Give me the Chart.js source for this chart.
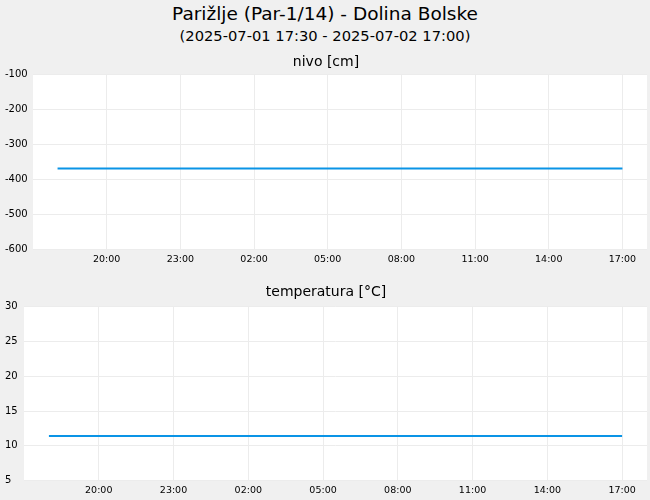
<!DOCTYPE html>
<html>
<head>
<meta charset="utf-8">
<script src="https://cdn.jsdelivr.net/npm/chart.js@4"></script>
<style>
  html, body { margin: 0; padding: 0; background: #f0f0f0; width: 650px; height: 500px; overflow: hidden; font-family: "DejaVu Sans", sans-serif; }
  #t1 { position: absolute; left: 0; top: 3px; width: 650px; text-align: center; font-size: 18.5px; line-height: 22px; color: #000; }
  #t2 { position: absolute; left: 0; top: 27px; width: 650px; text-align: center; font-size: 14.7px; line-height: 18px; color: #000; }
  #c1 { position: absolute; left: 0; top: 48px; }
  #c2 { position: absolute; left: 0; top: 282px; }
</style>
</head>
<body>
<div id="t1">Parižlje (Par-1/14) - Dolina Bolske</div>
<div id="t2">(2025-07-01 17:30 - 2025-07-02 17:00)</div>
<canvas id="c1" width="650" height="221"></canvas>
<canvas id="c2" width="650" height="218"></canvas>
<script>
// ---- data ----
const times = [
  "1 18:00","1 19:00","1 20:00","1 21:00","1 22:00","1 23:00",
  "2 00:00","2 01:00","2 02:00","2 03:00","2 04:00","2 05:00",
  "2 06:00","2 07:00","2 08:00","2 09:00","2 10:00","2 11:00",
  "2 12:00","2 13:00","2 14:00","2 15:00","2 16:00","2 17:00"
];
const nivo = [
  -368,-368,-368,-368,-368,-368,-368,-368,-368,-368,-368,-368,
  -368,-368,-368,-368,-368,-368,-368,-368,-368,-368,-368,-368
];
const temperatura = [
  11.4,11.4,11.4,11.4,11.4,11.4,11.4,11.4,11.4,11.4,11.4,11.4,
  11.4,11.4,11.4,11.4,11.4,11.4,11.4,11.4,11.4,11.4,11.4,11.4
];
const xTickLabels = ["20:00","23:00","02:00","05:00","08:00","11:00","14:00","17:00"];
const xTickDays   = [1, 1, 2, 2, 2, 2, 2, 2];
const nivoTicks = [-600,-500,-400,-300,-200,-100];
const tempTicks = [5,10,15,20,25,30];

// minutes since day-1 17:00
function toMin(day, hhmm) {
  const [h, m] = hhmm.split(":").map(Number);
  return (day - 1) * 1440 + h * 60 + m - 17 * 60;
}
function parseT(s) { const [d, t] = s.split(" "); return toMin(Number(d), t); }
const xTickVals = xTickLabels.map((l, i) => toMin(xTickDays[i], l));
const xMin = toMin(1, "17:00"), xMax = toMin(2, "18:00");

const whiteArea = {
  id: 'whiteArea',
  beforeDraw(chart) {
    const { ctx, chartArea: a } = chart;
    ctx.save();
    ctx.fillStyle = '#ffffff';
    ctx.fillRect(a.left, a.top, a.right - a.left, a.bottom - a.top);
    ctx.restore();
  }
};

Chart.defaults.font.family = '"DejaVu Sans", sans-serif';
Chart.defaults.color = '#000';

function makeChart(id, title, values, yTicks, yWidth, padTop, padBottom) {
  const pts = times.map((t, i) => ({ x: parseT(t), y: values[i] }));
  return new Chart(document.getElementById(id), {
    type: 'line',
    data: { datasets: [{ data: pts, borderColor: '#0a94e6', borderWidth: 2, pointRadius: 0, fill: false, tension: 0 }] },
    options: {
      responsive: false,
      animation: false,
      devicePixelRatio: 1,
      layout: { padding: { left: 5, right: 3, top: 0, bottom: 0 } },
      plugins: {
        legend: { display: false },
        tooltip: { enabled: false },
        title: { display: true, text: title, font: { size: 14, weight: 'normal' }, color: '#000', padding: { top: padTop, bottom: padBottom } }
      },
      scales: {
        x: {
          type: 'linear', min: xMin, max: xMax,
          afterBuildTicks(s) { s.ticks = xTickVals.map(v => ({ value: v })); },
          ticks: {
            font: { size: 9.5 }, color: '#000', padding: 4, maxRotation: 0, autoSkip: false,
            callback(v) { const i = xTickVals.indexOf(v); return i >= 0 ? xTickLabels[i] : ''; }
          },
          grid: { color: '#ececec', drawTicks: false },
          border: { display: false }
        },
        y: {
          min: yTicks[0], max: yTicks[yTicks.length - 1],
          afterBuildTicks(s) { s.ticks = yTicks.map(v => ({ value: v })); },
          afterFit(s) { s.width = yWidth; },
          ticks: { font: { size: 10 }, color: '#000', crossAlign: 'far', padding: 2 },
          grid: { color: '#ececec', drawTicks: false },
          border: { display: false }
        }
      }
    },
    plugins: [whiteArea]
  });
}

makeChart('c1', 'nivo [cm]', nivo, nivoTicks, 28, 6, 4);
makeChart('c2', 'temperatura [°C]', temperatura, tempTicks, 19, 2, 6);
</script>
</body>
</html>
